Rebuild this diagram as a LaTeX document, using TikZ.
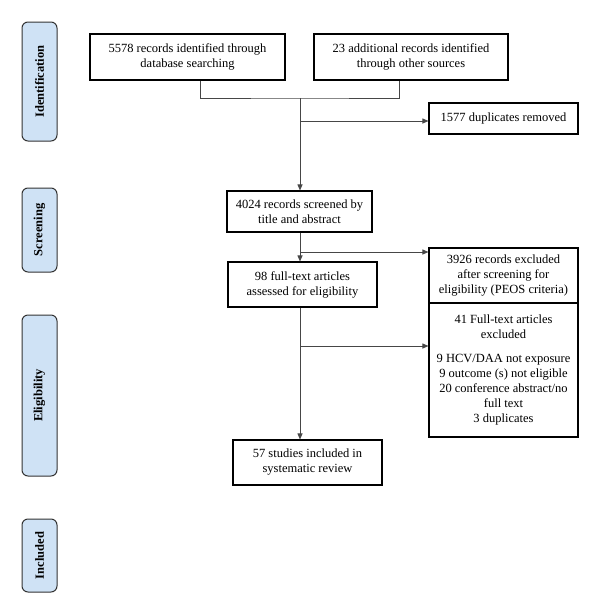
\documentclass[tikz,border=0pt]{standalone}
\usepackage{fontspec}
\setmainfont{Liberation Serif}
\usetikzlibrary{calc,positioning,arrows.meta}
\definecolor{stagefill}{RGB}{207,226,245}
\definecolor{linegray}{RGB}{70,70,70}

\begin{document}
\begin{tikzpicture}[x=1pt,y=-1pt,
    record/.style={draw,line width=1.1pt,fill=white,rectangle,align=center,inner sep=2pt,font=\fontsize{12.5}{15}\selectfont},
    stage/.style={draw=black!80,line width=1pt,fill=stagefill,rectangle,rounded corners=6pt,rotate=90,minimum height=35pt,inner sep=0pt,font=\fontsize{12.5}{15}\selectfont\bfseries},
    flow/.style={draw=linegray,line width=0.9pt},
    link/.style={flow,-{Triangle[length=6pt,width=5pt]}}
    ]
  \useasboundingbox (0,0) rectangle (600,614);

  \node(identification) [stage,minimum width=119pt] at (39.5,81.5) {Identification};
  \node(screening) [stage,minimum width=84pt] at (39.5,230) {Screening};
  \node(eligibility) [stage,minimum width=161pt] at (39.5,395.5) {Eligibility};
  \node(included) [stage,minimum width=73pt] at (39.5,555.5) {Included};

  \node(database) [record,minimum width=195pt,minimum height=46pt] at (187.5,57) {5578 records identified through\\database searching};
  \node(other) [record,minimum width=194pt,minimum height=46pt] at (411,57) {23 additional records identified\\through other sources};
  \node(duplicates) [record,minimum width=149pt,minimum height=31pt] at (503.5,118.5) {1577 duplicates removed};

  \node(screened) [record,minimum width=145pt,minimum height=41pt] at (299.5,211.5) {4024 records screened by\\title and abstract};
  \node(excluded) [record,minimum width=149pt,minimum height=55pt] at (503.5,275.5) {3926 records excluded\\after screening for\\eligibility (PEOS criteria)};
  \node(fulltext) [record,minimum width=149pt,minimum height=45pt] at (302.5,284.5) {98 full-text articles\\assessed for eligibility};
  \node(ftexcluded) [record,minimum width=149pt,minimum height=134pt] at (503.5,370) {41 Full-text articles\\excluded\\[9pt]9 HCV/DAA not exposure\\9 outcome (s) not eligible\\20 conference abstract/no\\full text\\3 duplicates};
  \node(studies) [record,minimum width=149pt,minimum height=45pt] at (307.5,462.5) {57 studies included in\\systematic review};

  \coordinate(join) at (300,98);
  \coordinate(a) at (300,121);
  \coordinate(b) at (300,252);
  \coordinate(c) at (300,346);

  \draw[flow] ([xshift=12.5pt]database.south) |- (join) -| ([xshift=-12pt]other.south);
  \draw[link] (join) -- (join |- screened.north);
  \draw[link] (a) -- (a -| duplicates.west);
  \draw[link] (screened.south -| join) -- (join |- fulltext.north);
  \draw[link] (b) -- (b -| excluded.west);
  \draw[link] (fulltext.south -| join) -- (join |- studies.north);
  \draw[link] (c) -- (c -| ftexcluded.west);

\end{tikzpicture}
\end{document}
